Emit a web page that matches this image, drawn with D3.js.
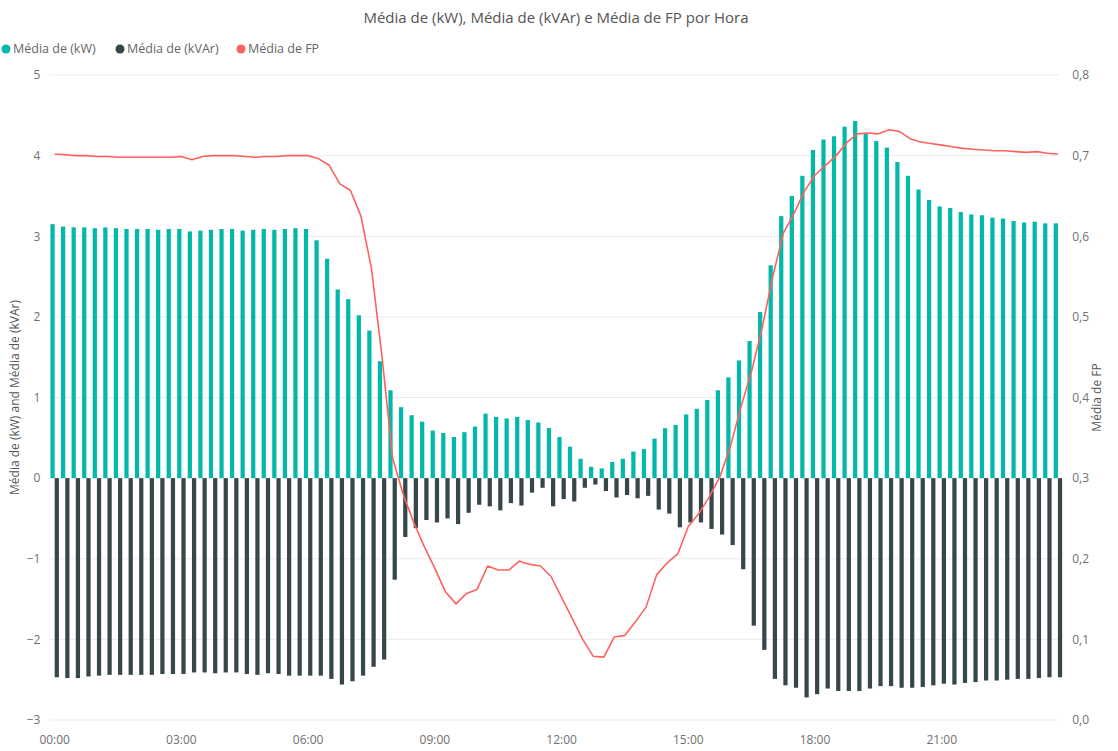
<!DOCTYPE html>
<html>
<head>
<meta charset="utf-8">
<script src="https://cdn.jsdelivr.net/npm/d3@7"></script>
<style>
  body { margin: 0; background: #ffffff; }
  svg text { font-family: "Open Sans", "Noto Sans", sans-serif; }
</style>
</head>
<body>
<svg id="chart" width="1118" height="751"></svg>
<script>
// Intervalos de 15 minutos ao longo do dia
const horas = [
  "00:00","00:15","00:30","00:45","01:00","01:15","01:30","01:45",
  "02:00","02:15","02:30","02:45","03:00","03:15","03:30","03:45",
  "04:00","04:15","04:30","04:45","05:00","05:15","05:30","05:45",
  "06:00","06:15","06:30","06:45","07:00","07:15","07:30","07:45",
  "08:00","08:15","08:30","08:45","09:00","09:15","09:30","09:45",
  "10:00","10:15","10:30","10:45","11:00","11:15","11:30","11:45",
  "12:00","12:15","12:30","12:45","13:00","13:15","13:30","13:45",
  "14:00","14:15","14:30","14:45","15:00","15:15","15:30","15:45",
  "16:00","16:15","16:30","16:45","17:00","17:15","17:30","17:45",
  "18:00","18:15","18:30","18:45","19:00","19:15","19:30","19:45",
  "20:00","20:15","20:30","20:45","21:00","21:15","21:30","21:45",
  "22:00","22:15","22:30","22:45","23:00","23:15","23:30","23:45"
];

// Média de (kW)
const mediaKW = [
  3.15, 3.12, 3.11, 3.11, 3.10, 3.11, 3.10, 3.09, 3.09, 3.09, 3.08, 3.09,
  3.09, 3.06, 3.07, 3.08, 3.09, 3.09, 3.07, 3.08, 3.09, 3.08, 3.09, 3.10,
  3.09, 2.95, 2.72, 2.34, 2.22, 2.02, 1.83, 1.45, 1.09, 0.88, 0.78, 0.70,
  0.59, 0.56, 0.51, 0.57, 0.64, 0.80, 0.76, 0.74, 0.76, 0.72, 0.69, 0.62,
  0.51, 0.39, 0.24, 0.14, 0.12, 0.20, 0.24, 0.33, 0.36, 0.49, 0.62, 0.66,
  0.79, 0.86, 0.97, 1.09, 1.25, 1.46, 1.70, 2.06, 2.64, 3.25, 3.50, 3.75,
  4.07, 4.20, 4.24, 4.36, 4.43, 4.28, 4.18, 4.10, 3.92, 3.75, 3.58, 3.45,
  3.37, 3.35, 3.30, 3.27, 3.26, 3.23, 3.22, 3.19, 3.17, 3.18, 3.16, 3.16
];

// Média de (kVAr)
const mediaKVAr = [
  -2.47, -2.48, -2.48, -2.46, -2.45, -2.44, -2.44, -2.44, -2.44, -2.44, -2.43, -2.43,
  -2.43, -2.41, -2.41, -2.42, -2.41, -2.41, -2.43, -2.44, -2.42, -2.43, -2.45, -2.45,
  -2.45, -2.45, -2.49, -2.56, -2.52, -2.45, -2.34, -2.25, -1.26, -0.73, -0.62, -0.52,
  -0.55, -0.50, -0.57, -0.43, -0.33, -0.35, -0.40, -0.31, -0.34, -0.18, -0.12, -0.35,
  -0.26, -0.29, -0.12, -0.08, -0.16, -0.24, -0.21, -0.25, -0.22, -0.39, -0.44, -0.61,
  -0.55, -0.55, -0.63, -0.70, -0.83, -1.13, -1.83, -2.13, -2.49, -2.57, -2.60, -2.72,
  -2.68, -2.61, -2.64, -2.64, -2.64, -2.61, -2.58, -2.58, -2.60, -2.60, -2.59, -2.57,
  -2.55, -2.56, -2.54, -2.53, -2.51, -2.51, -2.50, -2.49, -2.49, -2.48, -2.47, -2.47
];

// Média de FP
const mediaFP = [
  0.702, 0.701, 0.700, 0.700, 0.699, 0.699, 0.698, 0.698, 0.698, 0.698, 0.698, 0.698,
  0.699, 0.695, 0.699, 0.700, 0.700, 0.700, 0.699, 0.698, 0.699, 0.699, 0.700, 0.700,
  0.700, 0.696, 0.688, 0.665, 0.657, 0.625, 0.560, 0.450, 0.325, 0.280, 0.245, 0.215,
  0.188, 0.159, 0.144, 0.157, 0.162, 0.191, 0.186, 0.186, 0.197, 0.193, 0.191, 0.178,
  0.152, 0.126, 0.100, 0.079, 0.078, 0.103, 0.105, 0.122, 0.140, 0.180, 0.195, 0.206,
  0.240, 0.256, 0.277, 0.302, 0.340, 0.389, 0.433, 0.487, 0.550, 0.604, 0.628, 0.656,
  0.676, 0.688, 0.700, 0.716, 0.727, 0.728, 0.727, 0.732, 0.730, 0.721, 0.717, 0.715,
  0.713, 0.711, 0.709, 0.708, 0.707, 0.706, 0.706, 0.705, 0.704, 0.705, 0.703, 0.702
];

const ticksHora = ["00:00","03:00","06:00","09:00","12:00","15:00","18:00","21:00"];
const ticksEsquerda = [-3, -2, -1, 0, 1, 2, 3, 4, 5];
const ticksDireita = [0, 0.1, 0.2, 0.3, 0.4, 0.5, 0.6, 0.7, 0.8];

const series = ["Média de (kW)", "Média de (kVAr)", "Média de FP"];
const cores = ["#01B8AA", "#374649", "#FD625E"];

const svg = d3.select("#chart");

const plot = { left: 49.4, right: 1063.2, top: 75, bottom: 720 };

const x = d3.scaleBand()
  .domain(horas)
  .range([plot.left, plot.right])
  .paddingInner(0.2)
  .paddingOuter(0.1);

const xSub = d3.scaleBand()
  .domain(["kW", "kVAr"])
  .range([0, x.bandwidth()]);

const yEsq = d3.scaleLinear().domain([-3, 5]).range([plot.bottom, plot.top]);
const yDir = d3.scaleLinear().domain([0, 0.8]).range([plot.bottom, plot.top]);

// Título
svg.append("text")
  .attr("x", 556)
  .attr("y", 23)
  .attr("text-anchor", "middle")
  .attr("fill", "#555555")
  .style("font-size", "15px")
  .text("Média de (kW), Média de (kVAr) e Média de FP por Hora");

// Legenda
const legendaX = [6, 120, 241];
const legenda = svg.append("g");
series.forEach((s, i) => {
  const g = legenda.append("g").attr("transform", `translate(${legendaX[i]},49)`);
  g.append("circle").attr("r", 4.5).attr("fill", cores[i]);
  g.append("text")
    .attr("x", 7)
    .attr("dy", "0.35em")
    .attr("fill", "#666666")
    .style("font-size", "12.5px")
    .text(s);
});

// Linhas de grade
svg.append("g")
  .selectAll("line")
  .data(ticksEsquerda)
  .join("line")
  .attr("x1", plot.left)
  .attr("x2", 1059)
  .attr("y1", d => yEsq(d))
  .attr("y2", d => yEsq(d))
  .attr("stroke", "#ececec")
  .attr("stroke-width", 1);

// Eixo esquerdo
const eixoEsq = svg.append("g")
  .attr("transform", `translate(${plot.left},0)`)
  .call(d3.axisLeft(yEsq).tickValues(ticksEsquerda).tickSize(0).tickPadding(9).tickFormat(d3.format("d")));
eixoEsq.select(".domain").remove();
eixoEsq.selectAll("text").attr("fill", "#707070").style("font-size", "12px");

// Eixo direito
const fmtFP = v => d3.format(".1f")(v).replace(".", ",");
const eixoDir = svg.append("g")
  .attr("transform", `translate(${plot.right},0)`)
  .call(d3.axisRight(yDir).tickValues(ticksDireita).tickSize(0).tickPadding(9).tickFormat(fmtFP));
eixoDir.select(".domain").remove();
eixoDir.selectAll("text").attr("fill", "#707070").style("font-size", "12px");

// Eixo X
const eixoX = svg.append("g")
  .attr("transform", `translate(0,${plot.bottom})`)
  .call(d3.axisBottom(x).tickValues(ticksHora).tickSize(0).tickPadding(15));
eixoX.select(".domain").remove();
eixoX.selectAll("text").attr("fill", "#707070").style("font-size", "12px");

// Títulos dos eixos
svg.append("text")
  .attr("transform", `translate(19,${(plot.top + plot.bottom) / 2}) rotate(-90)`)
  .attr("text-anchor", "middle")
  .attr("fill", "#555555")
  .style("font-size", "12px")
  .text("Média de (kW) and Média de (kVAr)");

svg.append("text")
  .attr("transform", `translate(1101,${(plot.top + plot.bottom) / 2}) rotate(-90)`)
  .attr("text-anchor", "middle")
  .attr("fill", "#555555")
  .style("font-size", "12px")
  .text("Média de FP");

// Colunas agrupadas
const barras = svg.append("g");
barras.selectAll("rect.kw")
  .data(horas.map((h, i) => ({ h, v: mediaKW[i] })))
  .join("rect")
  .attr("class", "kw")
  .attr("x", d => x(d.h) + xSub("kW"))
  .attr("width", xSub.bandwidth())
  .attr("y", d => yEsq(Math.max(0, d.v)))
  .attr("height", d => Math.abs(yEsq(d.v) - yEsq(0)))
  .attr("fill", cores[0]);

barras.selectAll("rect.kvar")
  .data(horas.map((h, i) => ({ h, v: mediaKVAr[i] })))
  .join("rect")
  .attr("class", "kvar")
  .attr("x", d => x(d.h) + xSub("kVAr"))
  .attr("width", xSub.bandwidth())
  .attr("y", d => yEsq(Math.max(0, d.v)))
  .attr("height", d => Math.abs(yEsq(d.v) - yEsq(0)))
  .attr("fill", cores[1]);

// Linha do fator de potência
const linha = d3.line()
  .x((d, i) => x(horas[i]) + x.bandwidth() / 2)
  .y(d => yDir(d));

svg.append("path")
  .datum(mediaFP)
  .attr("d", linha)
  .attr("fill", "none")
  .attr("stroke", cores[2])
  .attr("stroke-width", 1.6)
  .attr("stroke-linejoin", "round");
</script>
</body>
</html>
